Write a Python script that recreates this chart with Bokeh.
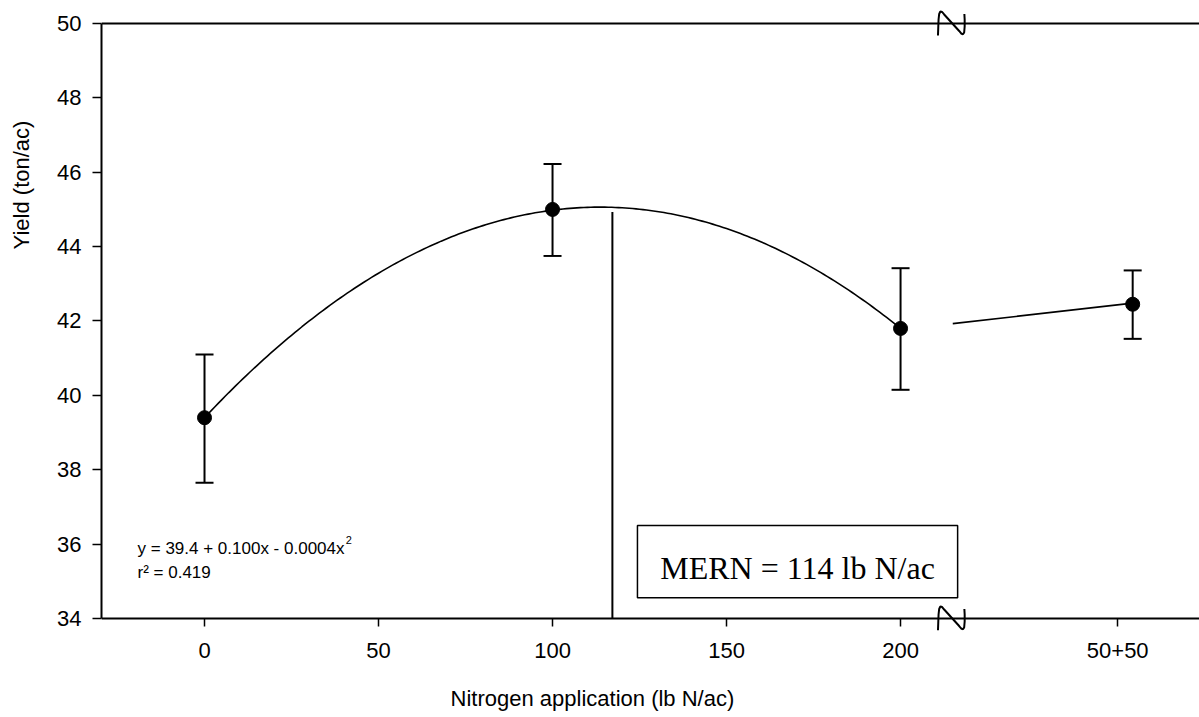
from bokeh.plotting import figure
from bokeh.models import (ColumnDataSource, Whisker, TeeHead, Span, Label, FixedTicker,
                          BoxAnnotation)
from bokeh.embed import file_html
from bokeh.resources import INLINE

# ---------------- data ----------------
treatments = ["0", "100", "200", "50+50"]
n_rate_pos = [0, 100, 200, 266.7]          # plotting positions on the N axis
yield_mean = [39.4, 45.0, 41.8, 42.45]
yield_low = [37.65, 43.75, 40.15, 41.52]
yield_high = [41.1, 46.22, 43.42, 43.36]

# quadratic fit y = a + b x + c x^2 (0..200 lb N/ac)
fit_a, fit_b, fit_c = 39.4, 0.0996, -0.000438
fit_x_min, fit_x_max = 0, 200

# line beyond the axis break to the split application
split_x = [215, 266.7]
split_y = [41.93, 42.48]

mern_x = 117.2
mern_top = 44.93

x_ticks = [0, 50, 100, 150, 200, 262.4]
x_tick_labels = ["0", "50", "100", "150", "200", "50+50"]
y_ticks = [34, 36, 38, 40, 42, 44, 46, 48, 50]

break_x = 214.4

# ---------------- figure ----------------
PXX = 3.48   # px per x unit
PXY = 37.19  # px per y unit
YA, YB = 34, 50                     # axis extent
pad_top, pad_bot = 15, 12           # frame padding (px) so break marks are not clipped
X0, X1 = -29.6, 285.9
p = figure(width=1199, height=717, x_range=(X0, X1),
           y_range=(YA - pad_bot / PXY, YB + pad_top / PXY),
           output_backend="svg", toolbar_location=None,
           min_border_left=101, min_border_right=0,
           min_border_top=23 - pad_top, min_border_bottom=717 - 618 - pad_bot)
p.outline_line_color = None
p.xgrid.visible = False
p.ygrid.visible = False
p.background_fill_color = "white"

FONT = "Liberation Sans"
NB = "\u00a0"
for ax in (p.xaxis[0], p.yaxis[0]):
    ax.axis_line_width = 2
    ax.axis_line_color = "black"
    ax.major_tick_line_width = 1.5
    ax.major_tick_line_color = "black"
    ax.minor_tick_line_color = None
    ax.minor_tick_out = 0
    ax.minor_tick_in = 0
    ax.major_label_text_font = FONT
    ax.major_label_text_font_size = "22px"
    ax.major_label_text_color = "black"
    ax.axis_label_text_font = FONT
    ax.axis_label_text_font_size = "22px"
    ax.axis_label_text_font_style = "normal"
    ax.axis_label_text_color = "black"

# x axis sits at the frame bottom; its ticks are shifted up to the y=34 line
p.xaxis.ticker = FixedTicker(ticks=x_ticks)
p.xaxis.major_label_overrides = {t: l for t, l in zip(x_ticks, x_tick_labels)}
p.xaxis.axis_line_color = None
p.xaxis.major_tick_in = pad_bot
p.xaxis.major_tick_out = 8 - pad_bot
p.xaxis.major_label_standoff = 24 - pad_bot
p.xaxis.axis_label = "Nitrogen application (lb N/ac)" + NB * 19
p.xaxis.axis_label_standoff = 25

p.yaxis.ticker = FixedTicker(ticks=y_ticks)
p.yaxis.bounds = (YA, YB)
p.yaxis.major_tick_in = 0
p.yaxis.major_tick_out = 9
p.yaxis.major_label_standoff = 11
p.yaxis.axis_label = NB * 44 + "Yield (ton/ac)"
p.yaxis.axis_label_standoff = 20

# bottom and top lines
p.add_layout(Span(location=YA, dimension="width", line_color="black", line_width=2))
p.add_layout(Span(location=YB, dimension="width", line_color="black", line_width=2))

# fitted curve
n = 201
cx = [fit_x_min + (fit_x_max - fit_x_min) * i / (n - 1) for i in range(n)]
cy = [fit_a + fit_b * x + fit_c * x * x for x in cx]
p.line(cx, cy, line_color="black", line_width=1.6)

# split line
p.line(split_x, split_y, line_color="black", line_width=1.6)

# MERN vertical line
p.segment(x0=[mern_x], y0=[YA], x1=[mern_x], y1=[mern_top], line_color="black", line_width=2)

# error bars
src = ColumnDataSource(dict(x=n_rate_pos, y=yield_mean, lo=yield_low, hi=yield_high))
p.add_layout(Whisker(source=src, base="x", upper="hi", lower="lo", dimension="height",
                     line_color="black", line_width=2,
                     upper_head=TeeHead(size=18, line_width=2, line_color="black"),
                     lower_head=TeeHead(size=18, line_width=2, line_color="black")))
p.scatter("x", "y", source=src, size=14, fill_color="black", line_color="black")

# MERN box
p.add_layout(BoxAnnotation(left=124.4, right=216.4, bottom=34.56, top=36.5,
                           fill_color="white", fill_alpha=1.0,
                           line_color="black", line_alpha=1.0, line_width=1.5,
                           level="overlay"))
p.add_layout(Label(x=170.4, y=35.37, text="MERN = 114 lb N/ac", text_align="center",
                   text_baseline="alphabetic", text_font="Liberation Serif",
                   text_font_size="32px", text_color="black", level="overlay"))

# equation
p.add_layout(Label(x=-19.25, y=35.88, text="y = 39.4 + 0.100x - 0.0004x",
                   text_align="left", text_baseline="middle", text_font=FONT,
                   text_font_size="17px", text_color="black"))
p.add_layout(Label(x=40.6, y=36.12, text="2", text_align="left", text_baseline="middle",
                   text_font=FONT, text_font_size="11px", text_color="black"))
p.add_layout(Label(x=-19.25, y=35.24, text="r² = 0.419",
                   text_align="left", text_baseline="middle", text_font=FONT,
                   text_font_size="17px", text_color="black"))

# axis break squiggles
shape = [(-12.7, -12.0), (-12.4, -4), (-12.1, 4), (-11.5, 9.5), (-10.3, 12), (-8.5, 11.5),
         (-6.5, 9), (8.5, -7.5), (10.5, -10), (12.3, -10.8), (13.5, -9), (14.0, -3),
         (14.0, 4), (13.7, 9.5)]
bxs, bys = [], []
for yline in (YA, YB):
    bxs.append([break_x + dx / PXX for dx, dy in shape])
    bys.append([yline + dy / PXY for dx, dy in shape])
p.multi_line(bxs, bys, line_color="black", line_width=2)

open("out.html", "w").write(file_html(p, INLINE))
